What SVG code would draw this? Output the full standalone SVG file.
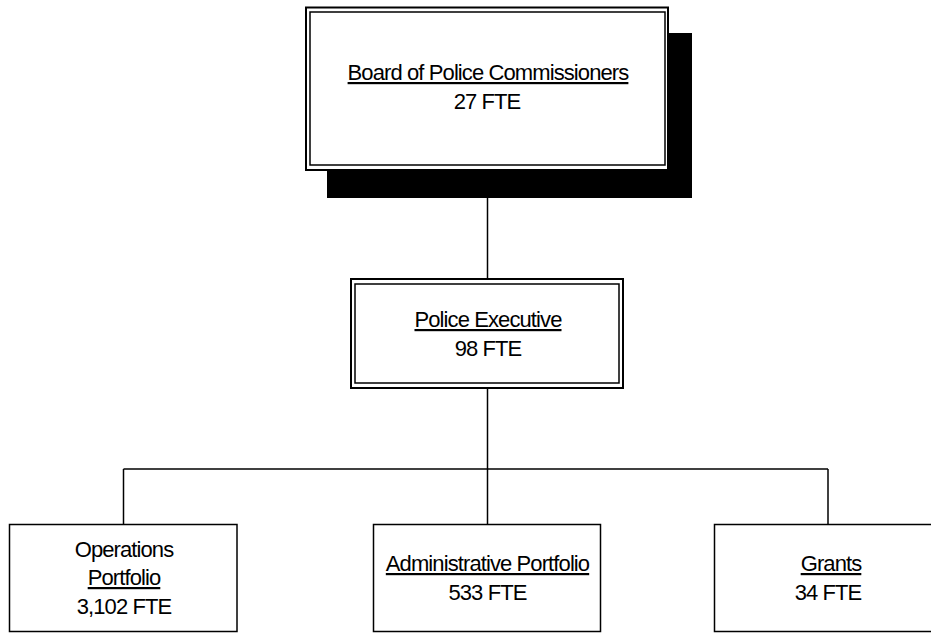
<svg xmlns="http://www.w3.org/2000/svg" width="931" height="633" viewBox="0 0 931 633">
<style>
.t{font-family:"Liberation Sans",Arial,sans-serif;font-size:22px;letter-spacing:-0.9px;fill:#000;text-anchor:middle}
.u{text-decoration:underline}
.box{fill:#fff;stroke:#000;stroke-width:1.5}
.outer{fill:#fff;stroke:#000;stroke-width:2}
.inner{fill:none;stroke:#000;stroke-width:1.5}
.c{stroke:#000;stroke-width:1.5;fill:none}
</style>
<rect width="931" height="633" fill="#fff"/>
<g id="connectors">
<line class="c" x1="487.5" y1="170" x2="487.5" y2="279"/>
<line class="c" x1="487.5" y1="388" x2="487.5" y2="469"/>
<line class="c" x1="123.5" y1="469" x2="828" y2="469"/>
<line class="c" x1="123.5" y1="469" x2="123.5" y2="524"/>
<line class="c" x1="487.5" y1="469" x2="487.5" y2="524"/>
<line class="c" x1="828" y1="469" x2="828" y2="524"/>
</g>
<g id="board">
<rect x="327" y="33" width="365" height="165" fill="#000"/>
<rect class="outer" x="306" y="7.5" width="362" height="162.5"/>
<rect class="inner" x="310" y="12" width="355" height="153"/>
<text class="t u" x="488" y="80">Board of Police Commissioners</text>
<text class="t" x="487" y="109">27 FTE</text>
</g>
<g id="executive">
<rect class="outer" x="351" y="279" width="272" height="109"/>
<rect class="inner" x="355" y="284" width="264" height="99"/>
<text class="t u" x="488" y="327">Police Executive</text>
<text class="t" x="488" y="356">98 FTE</text>
</g>
<g id="operations">
<rect class="box" x="9.5" y="524.5" width="227.5" height="107"/>
<text class="t" x="124" y="557">Operations</text>
<text class="t u" x="124" y="585">Portfolio</text>
<text class="t" x="124" y="614">3,102 FTE</text>
</g>
<g id="administrative">
<rect class="box" x="373.5" y="524.5" width="227" height="107"/>
<text class="t u" x="487.5" y="571">Administrative Portfolio</text>
<text class="t" x="487.5" y="600">533 FTE</text>
</g>
<g id="grants">
<rect class="box" x="714.5" y="524.5" width="230" height="107"/>
<text class="t u" x="831" y="571">Grants</text>
<text class="t" x="828" y="600">34 FTE</text>
</g>
</svg>
